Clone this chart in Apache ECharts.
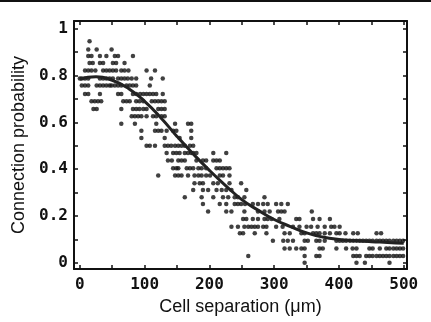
<!DOCTYPE html>
<html>
<head>
<meta charset="utf-8">
<script src="https://cdn.jsdelivr.net/npm/echarts@6/dist/echarts.min.js"></script>
<style>
  html, body { margin: 0; padding: 0; background: #fff; }
  #chart { width: 431px; height: 322px; }
</style>
</head>
<body>
<div id="chart"></div>
<script>
// fitted curve
const curveX = [0, 25, 50, 75, 100, 125, 150, 175, 200, 225, 250, 275, 300, 325, 350, 375, 400, 425, 450, 475, 500];
const curveY = [0.785, 0.795, 0.78, 0.745, 0.69, 0.62, 0.54, 0.465, 0.395, 0.33, 0.27, 0.225, 0.185, 0.155, 0.128, 0.11, 0.1, 0.095, 0.09, 0.087, 0.083];

// measured points, grouped by probability level
const dotLevels = [0.947, 0.911, 0.883, 0.854, 0.821, 0.787, 0.757, 0.721, 0.69, 0.657, 0.626, 0.594, 0.564, 0.533, 0.5, 0.469, 0.437, 0.404, 0.373, 0.34, 0.311, 0.28, 0.251, 0.219, 0.187, 0.154, 0.126, 0.094, 0.061, 0.029, 0.0];
const dotSeparations = [
  [15],
  [13, 26, 49],
  [13, 18, 31, 41, 54, 59, 82],
  [15, 20, 31, 36, 51, 56, 69],
  [8, 13, 18, 24, 36, 41, 46, 51, 56, 64, 69, 75, 103, 116],
  [0, 3, 8, 13, 31, 36, 41, 46, 51, 59, 64, 69, 74, 80, 87, 110, 128],
  [3, 8, 13, 26, 31, 36, 41, 46, 49, 54, 59, 64, 72, 77, 82, 87, 108],
  [8, 13, 31, 59, 64, 82, 87, 93, 98, 103, 108, 113, 118, 128],
  [18, 23, 28, 33, 67, 72, 77, 87, 92, 98, 111, 116, 121, 126, 131],
  [21, 26, 64, 82, 87, 92, 98, 103, 121, 126, 131],
  [80, 85, 90, 95, 103, 113, 118, 126, 131],
  [64, 85, 118, 147, 167, 172],
  [95, 116, 121, 126, 134, 144, 149, 172],
  [95, 131, 154, 172],
  [103, 108, 116, 131, 136, 141, 147, 152, 157, 162, 170, 175],
  [134, 144, 149, 154, 162, 167, 172, 175, 180, 206, 226],
  [136, 142, 152, 157, 162, 180, 190, 195, 206, 211, 216],
  [144, 149, 152, 165, 170, 175, 183, 188, 195, 211, 216, 221, 226, 231],
  [121, 147, 152, 157, 167, 177, 183, 188, 195, 201, 216, 221, 231],
  [177, 185, 190, 206, 213, 231, 249],
  [175, 190, 198, 211, 219, 226, 234, 257],
  [162, 188, 206, 221, 229, 239, 244, 254, 285],
  [190, 216, 226, 239, 244, 249, 255, 267, 275, 283, 290, 303, 311, 321],
  [198, 226, 234, 254, 275, 285, 293, 306, 311, 316, 358],
  [252, 257, 267, 275, 285, 290, 296, 308, 334, 339, 360, 370, 386],
  [234, 244, 254, 260, 265, 270, 275, 283, 288, 303, 313, 329, 339, 350, 357, 367, 378, 388, 393, 401],
  [247, 252, 270, 288, 316, 324, 342, 347, 360, 365, 370, 378, 386, 396, 401, 410, 422, 429, 458, 465],
  [298, 314, 321, 329, 347, 352, 365, 370, 378, 396, 401, 406, 411, 417, 422, 427, 432, 437, 442, 447, 452, 458, 463, 468, 473, 478, 484, 489, 494, 499],
  [316, 324, 334, 342, 347, 370, 375, 396, 411, 421, 427, 447, 452, 463, 473, 478, 484, 489, 494, 499],
  [260, 347, 365, 370, 422, 427, 432, 442, 447, 452, 458, 463, 468, 473, 478, 484, 489, 494, 499],
  [347, 427, 440, 478]
];

// axis ticks and labels
const xTicks = [0, 50, 100, 150, 200, 250, 300, 350, 400, 450, 500];
const xLabels = [0, 100, 200, 300, 400, 500];
const yTicks = [0, 0.1, 0.2, 0.3, 0.4, 0.5, 0.6, 0.7, 0.8, 0.9, 1];
const yLabels = [0, 0.2, 0.4, 0.6, 0.8, 1];

const dots = [];
dotLevels.forEach((p, i) => {
  dotSeparations[i].forEach((d) => dots.push([d, p]));
});
const curve = curveX.map((x, i) => [x, curveY[i]]);

const ink = '#111';
const labelFont = { color: ink, fontFamily: 'DejaVu Sans Mono', fontWeight: 'bold', fontSize: 16 };
const nameFont = { color: ink, fontFamily: 'Liberation Sans', fontSize: 18 };

function frameAxis(extra) {
  return Object.assign({
    type: 'value',
    axisLine: { show: true, onZero: false, lineStyle: { color: ink, width: 2 } },
    splitLine: { show: false },
    axisLabel: { show: false }
  }, extra);
}

function ticks(values) {
  return { show: true, inside: true, length: 4, customValues: values, lineStyle: { color: ink, width: 1.5 } };
}

const chart = echarts.init(document.getElementById('chart'));
chart.setOption({
  animation: false,
  backgroundColor: '#fff',
  grid: { left: 74, right: 24, top: 21, bottom: 53 },
  graphic: [{
    type: 'rect',
    shape: { x: 0, y: 0, width: 431, height: 2 },
    style: { fill: ink }
  }],
  xAxis: [
    frameAxis({
      min: -9, max: 505,
      position: 'bottom',
      axisTick: ticks(xTicks),
      axisLabel: Object.assign({ show: true, customValues: xLabels, margin: 8 }, labelFont),
      name: 'Cell separation (\u03bcm)',
      nameLocation: 'middle',
      nameGap: 26,
      nameTextStyle: nameFont
    }),
    frameAxis({ min: -9, max: 505, position: 'top', axisTick: ticks(xTicks) })
  ],
  yAxis: [
    frameAxis({
      min: -0.0265, max: 1.033,
      position: 'left',
      axisTick: ticks(yTicks),
      axisLabel: Object.assign({
        show: true, customValues: yLabels, margin: 6,
        formatter: (v) => String(+v.toFixed(1))
      }, labelFont),
      name: 'Connection probability',
      nameLocation: 'middle',
      nameGap: 40,
      nameTextStyle: nameFont
    }),
    frameAxis({ min: -0.0265, max: 1.033, position: 'right', axisTick: ticks(yTicks) })
  ],
  series: [
    {
      type: 'scatter',
      data: dots,
      symbol: 'circle',
      symbolSize: 4.5,
      itemStyle: { color: ink },
      silent: true
    },
    {
      type: 'line',
      data: curve,
      smooth: true,
      showSymbol: false,
      lineStyle: { color: '#222', width: 3 },
      silent: true
    }
  ]
});
</script>
</body>
</html>
